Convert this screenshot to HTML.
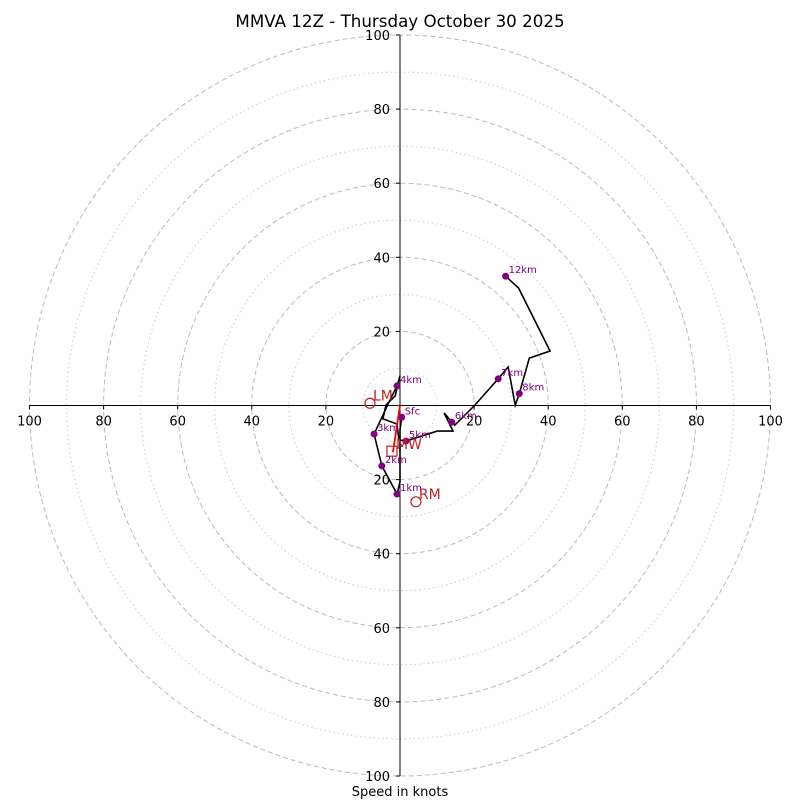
<!DOCTYPE html>
<html><head><meta charset="utf-8"><style>
html,body{margin:0;padding:0;background:#fff}
svg{font-family:"DejaVu Sans","Liberation Sans",sans-serif}
</style></head><body>
<svg id="chart" width="800" height="800" viewBox="0 0 800 800">
<text x="400" y="27" text-anchor="middle" font-size="16.7">MMVA 12Z - Thursday October 30 2025</text>
<g id="grid"></g>
<g id="axes"></g>
<g id="series"></g>
<text x="400" y="796" text-anchor="middle" font-size="13">Speed in knots</text>
</svg>
<script>
const ringValues=[10,20,30,40,50,60,70,80,90,100];
const tickValues=[20,40,60,80,100];
const uWind=[0.46,0,0,-0.8,-4.3,-4.9,-7.0,-2.7,-0.8,0,-1.3,-3.8,-4.6,-0.8,-0.3,1.6,10.0,14.3,11.9,14.0,14.8,20.2,26.5,29.2,31.1,32.2,34.9,40.5,32.0,28.5];
const vWind=[-3.18,-6.6,-20.6,-23.9,-17.4,-16.3,-7.7,1.5,5.3,8.0,2.6,0.1,-3.6,-5.0,-9.3,-9.6,-6.9,-6.9,-2.0,-4.5,-5.3,0.1,7.2,10.4,0.05,3.2,12.8,14.7,31.7,34.9];
const levelLabels=["Sfc","1km","2km","3km","4km","5km","6km","7km","8km","12km"];
const levelU=[0.46,-0.8,-4.9,-7.0,-0.8,1.6,14.0,26.5,32.2,28.5];
const levelV=[-3.18,-23.9,-16.3,-7.7,5.3,-9.6,-4.5,7.2,3.2,34.9];
const motionLabels=["LM","RM","MW"];
const motionU=[-8.1,4.3,-1.9];
const motionV=[0.6,-26.0,-12.6];
const NS="http://www.w3.org/2000/svg";
const cx=400,cy=405.5,R=370.5,maxV=100;
const sx=u=>cx+u*R/maxV, sy=v=>cy-v*R/maxV, sr=r=>r*R/maxV;
function mk(tag,attrs,parent){const e=document.createElementNS(NS,tag);for(const k in attrs)e.setAttribute(k,attrs[k]);parent.appendChild(e);return e;}
const grid=document.getElementById('grid'),axes=document.getElementById('axes'),ser=document.getElementById('series');
ringValues.forEach(r=>{
  const major=r%20===0;
  const c=mk('circle',{cx:cx,cy:cy,r:sr(r),fill:'none',stroke:major?'#bbb':'#ccc','stroke-width':1,'stroke-dasharray':major?'5,3':'1.5,3'},grid);
  
  
});
let l=mk('line',{x1:sx(-100),y1:cy,x2:sx(100),y2:cy,stroke:'#000','stroke-width':1},axes);


l=mk('line',{x1:cx,y1:sy(100),x2:cx,y2:sy(-100),stroke:'#000','stroke-width':1},axes);


tickValues.forEach(t=>{
  [-1,1].forEach(s=>{
    const x=sx(s*t);
    mk('line',{x1:x,y1:cy,x2:x,y2:cy+4,stroke:'#000'},axes);
    const tx=mk('text',{x:x,y:cy+20,'text-anchor':'middle','font-size':13},axes);
    tx.textContent=t;
    
    
    const y=sy(s*t);
    mk('line',{x1:cx-4,y1:y,x2:cx,y2:y,stroke:'#000'},axes);
    const ty=mk('text',{x:cx-10,y:y+5,'text-anchor':'end','font-size':13},axes);
    ty.textContent=t;
    
    
  });
});
const pts=uWind.map((u,i)=>sx(u)+','+sy(vWind[i])).join(' ');
const pl=mk('polyline',{points:pts,fill:'none',stroke:'#000','stroke-width':1.6},ser);


const ar=mk('line',{x1:cx,y1:cy,x2:sx(motionU[2]),y2:sy(motionV[2]),stroke:'red','stroke-width':1.8},ser);


levelLabels.forEach((n,i)=>{
  const d=mk('circle',{cx:sx(levelU[i]),cy:sy(levelV[i]),r:3.5,fill:'purple'},ser);
  
  
  const t=mk('text',{x:sx(levelU[i])+3,y:sy(levelV[i])-3,'font-size':10,fill:'purple'},ser);
  t.textContent=n;
  
  
});
motionLabels.forEach((n,i)=>{
  const x=sx(motionU[i]),y=sy(motionV[i]);
  let m;
  if(n==='MW'){m=mk('rect',{x:x-6,y:y-6,width:10,height:10,fill:'none',stroke:'#b22','stroke-width':1.2},ser);}
  else{m=mk('circle',{cx:x,cy:y,r:5,fill:'none',stroke:'#b22','stroke-width':1.2},ser);}
  
  
  const t=mk('text',{x:x+3,y:y-3,'font-size':14,fill:'#b22'},ser);
  t.textContent=n;
  
  
});
</script>
</body></html>
